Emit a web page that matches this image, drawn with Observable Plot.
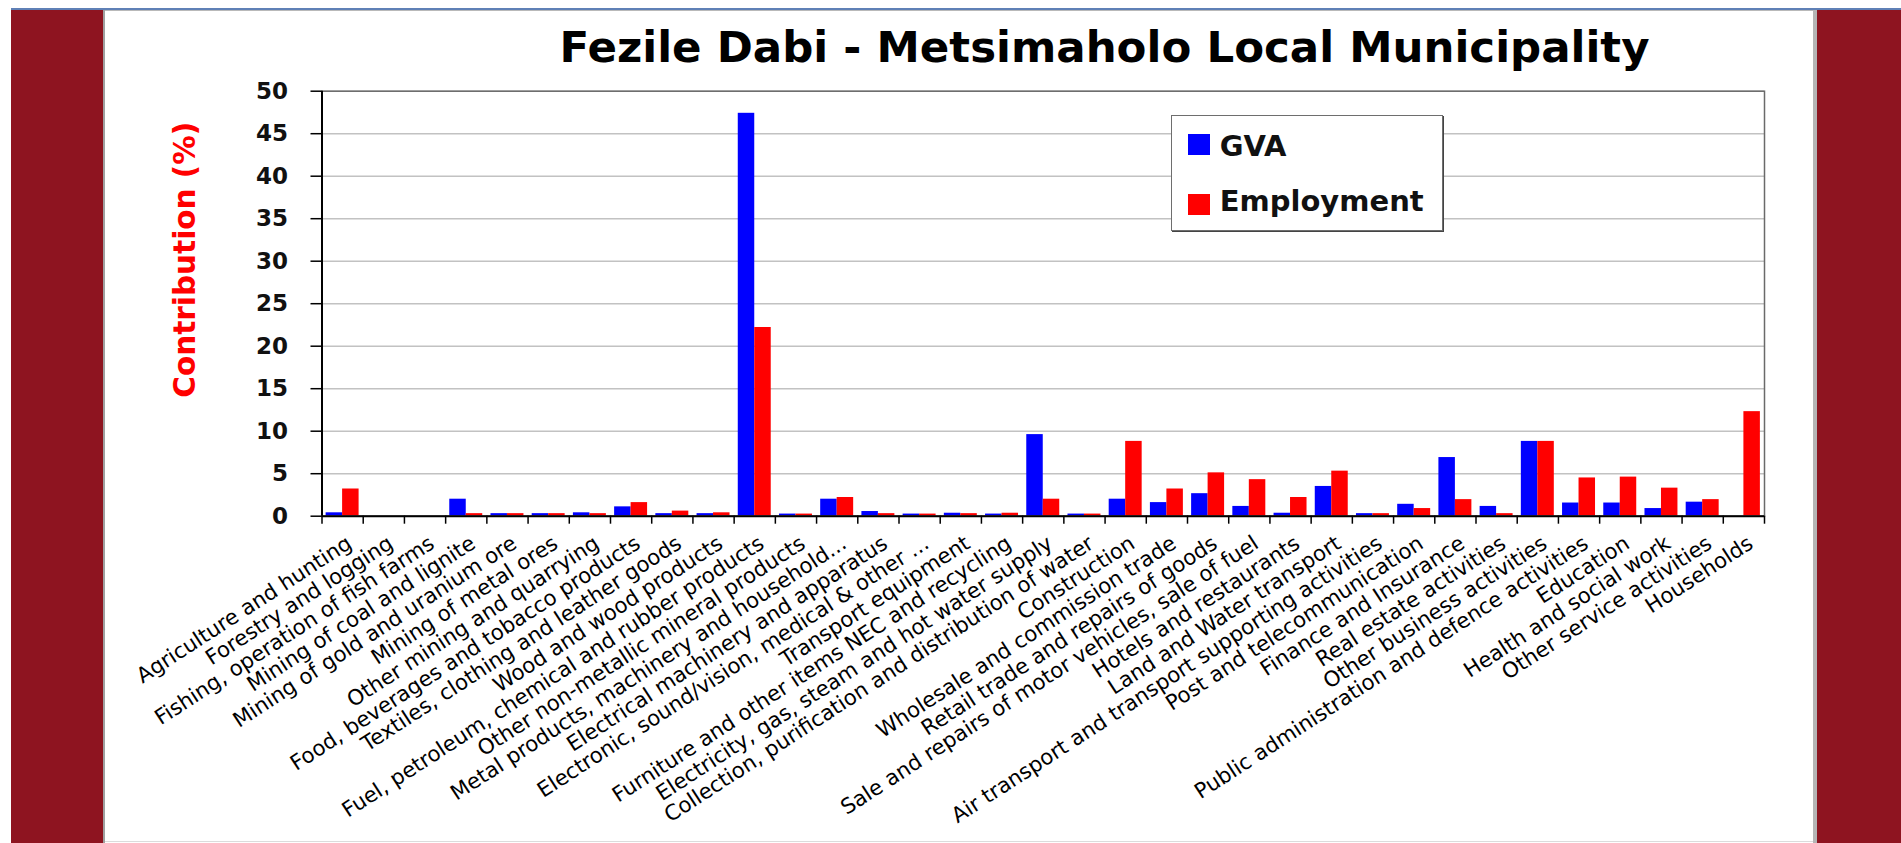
<!DOCTYPE html>
<html>
<head>
<meta charset="utf-8">
<script src="https://cdn.jsdelivr.net/npm/d3@7"></script>
<script src="https://cdn.jsdelivr.net/npm/@observablehq/plot@0.6"></script>
<style>
  html, body { margin: 0; padding: 0; background: #ffffff; overflow: hidden; }
  #page { position: relative; width: 1901px; height: 843px; overflow: hidden; font-family: "DejaVu Sans", sans-serif; }
  .abs { position: absolute; }
  .maroon { position: absolute; background: #8e1420; }
  #chart { position: absolute; left: 103px; top: 0px; }
  #title { position: absolute; left: 308px; width: 1593px; top: 26px; text-align: center;
           font: bold 43.5px/43.5px "DejaVu Sans", sans-serif; color: #000; white-space: nowrap; }
  #legend { position: absolute; left: 1170.7px; top: 115px; width: 272px; height: 116px; box-sizing: border-box;
            background: #fff; border: 1.5px solid #6e6e6e; box-shadow: 1px 1px 0 #444; }
  .sw { position: absolute; width: 22px; height: 21px; }
  .lt { position: absolute; font: bold 29px/29px "DejaVu Sans", sans-serif; color: #111; white-space: nowrap; }
</style>
</head>
<body>
<div id="page">
  <div class="abs" style="left:11px;top:8px;width:1890px;height:2px;background:#5f80b6"></div>
  <div class="abs" style="left:11px;top:10px;width:1890px;height:1px;background:#b9b9b9"></div>
  <div class="maroon" style="left:11px;top:10px;width:92px;height:833px"></div>
  <div class="abs" style="left:103px;top:10px;width:2px;height:833px;background:#a0a0a0"></div>
  <div class="maroon" style="left:1817px;top:10px;width:84px;height:833px"></div>
  <div class="abs" style="left:1813px;top:10px;width:4px;height:833px;background:#b5b5b5"></div>
  <div class="abs" style="left:105px;top:841px;width:1708px;height:1px;background:#dcdcdc"></div>
  <div id="chart"></div>
  <div id="title">Fezile Dabi - Metsimaholo Local Municipality</div>
  <div id="legend"></div>
</div>
<script>
// ---- data ----
const categories = [
  "Agriculture and hunting",
  "Forestry and logging",
  "Fishing, operation of fish farms",
  "Mining of coal and lignite",
  "Mining of gold and uranium ore",
  "Mining of metal ores",
  "Other mining and quarrying",
  "Food, beverages and tobacco products",
  "Textiles, clothing and leather goods",
  "Wood and wood products",
  "Fuel, petroleum, chemical and rubber products",
  "Other non-metallic mineral products",
  "Metal products, machinery and household...",
  "Electrical machinery and apparatus",
  "Electronic, sound/vision, medical & other ...",
  "Transport equipment",
  "Furniture and other items NEC and recycling",
  "Electricity, gas, steam and hot water supply",
  "Collection, purification and distribution of water",
  "Construction",
  "Wholesale and commission trade",
  "Retail trade and repairs of goods",
  "Sale and repairs of motor vehicles, sale of fuel",
  "Hotels and restaurants",
  "Land and Water transport",
  "Air transport and transport supporting activities",
  "Post and telecommunication",
  "Finance and Insurance",
  "Real estate activities",
  "Other business activities",
  "Public administration and defence activities",
  "Education",
  "Health and social work",
  "Other service activities",
  "Households"
];
const gva = [0.4, 0, 0, 2.0, 0.3, 0.3, 0.4, 1.1, 0.3, 0.3, 47.4, 0.25, 2.0, 0.55, 0.25, 0.35, 0.25, 9.6, 0.25, 2.0,
             1.6, 2.65, 1.15, 0.35, 3.5, 0.3, 1.4, 6.9, 1.15, 8.8, 1.55, 1.55, 0.9, 1.65, 0];
const employment = [3.2, 0, 0, 0.3, 0.3, 0.3, 0.3, 1.6, 0.6, 0.4, 22.2, 0.25, 2.2, 0.3, 0.25, 0.3, 0.35, 2.0, 0.25, 8.8,
                    3.2, 5.1, 4.3, 2.2, 5.3, 0.3, 0.9, 1.95, 0.3, 8.8, 4.5, 4.6, 3.3, 1.95, 12.3];
const yTicks = [0, 5, 10, 15, 20, 25, 30, 35, 40, 45, 50];
const seriesNames = ["GVA", "Employment"];
const seriesColors = ["#0000ff", "#ff0000"];
const titleText = "Fezile Dabi - Metsimaholo Local Municipality";
const yLabel = "Contribution (%)";

const table = categories.map((c, i) => ({category: c, gva: gva[i], employment: employment[i]}));

// ---- layout ----
const W = 1714, H = 843, mL = 218.5, mR = 53, mT = 90.7, mB = 327.3;
const bw = (W - mL - mR) / categories.length;

const chart = Plot.plot({
  width: W, height: H,
  marginLeft: mL, marginRight: mR, marginTop: mT, marginBottom: mB,
  style: {background: "transparent", fontFamily: "DejaVu Sans", overflow: "visible", color: "#000"},
  x: {type: "band", domain: categories, padding: 0, round: false},
  y: {domain: [0, 50]},
  marks: [
    Plot.gridY(yTicks, {stroke: "#c2c2c2", strokeOpacity: 1, strokeWidth: 1.6}),
    Plot.barY(table, {x: "category", y: "gva", fill: seriesColors[0], insetLeft: bw * 0.1, insetRight: bw * 0.5}),
    Plot.barY(table, {x: "category", y: "employment", fill: seriesColors[1], insetLeft: bw * 0.5, insetRight: bw * 0.1}),
    Plot.frame({stroke: "#6a6a6a", strokeWidth: 1.5}),
    Plot.ruleY([0], {stroke: "#000", strokeWidth: 2}),
    Plot.gridX({ticks: [categories[0]], dx: -bw / 2, stroke: "#000", strokeOpacity: 1, strokeWidth: 2}),
    Plot.axisY({ticks: yTicks, tickSize: 11, tickPadding: 23, fontSize: 23, fontWeight: "bold",
                label: null, stroke: "#000", strokeWidth: 1.5, fill: "#111"}),
    Plot.axisX({ticks: categories, tickSize: 8, dx: -bw / 2, fill: "none", label: null, stroke: "#000", strokeWidth: 1.5}),
    Plot.axisX({ticks: [categories[categories.length - 1]], tickSize: 8, dx: bw / 2, fill: "none", label: null, stroke: "#000", strokeWidth: 1.5}),
    Plot.axisX({ticks: categories, tickSize: 0, tickRotate: -33, textAnchor: "end", lineAnchor: "middle",
                tickPadding: 25, dx: 7, fontSize: 21.2, label: null, fill: "#000"}),
    Plot.text([yLabel], {frameAnchor: "left", rotate: -90, dx: -136, dy: -44, fill: "#ff0000",
                         fontSize: 29.5, fontWeight: "bold", textAnchor: "middle", lineAnchor: "middle"})
  ]
});
document.getElementById("chart").appendChild(chart);

// ---- legend ----
const legend = document.getElementById("legend");
const lgTop = [18, 78];
const txtTop = [15.5, 70.5];
seriesNames.forEach((name, i) => {
  const sw = document.createElement("div");
  sw.className = "sw";
  sw.style.left = "16px";
  sw.style.top = lgTop[i] + "px";
  sw.style.background = seriesColors[i];
  legend.appendChild(sw);
  const t = document.createElement("div");
  t.className = "lt";
  t.style.left = "48px";
  t.style.top = txtTop[i] + "px";
  t.textContent = name;
  legend.appendChild(t);
});
document.getElementById("title").textContent = titleText;
</script>
</body>
</html>
